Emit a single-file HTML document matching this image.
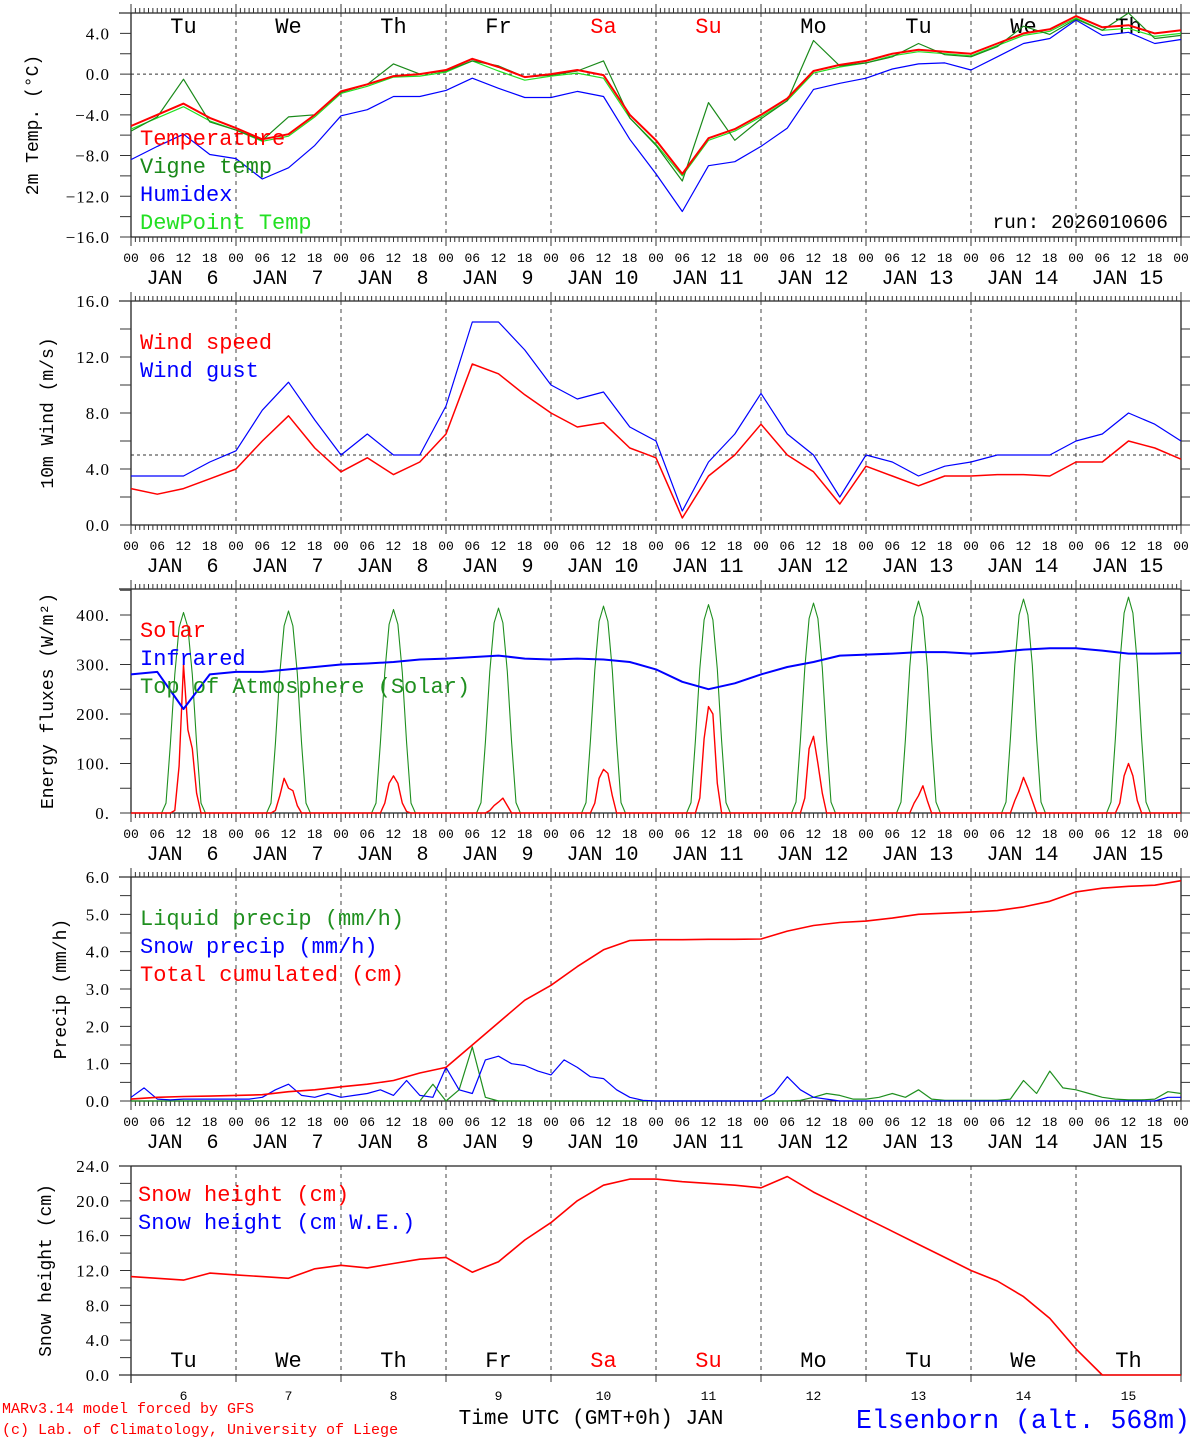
<!DOCTYPE html>
<html><head><meta charset="utf-8"><style>
html,body{margin:0;padding:0;background:#fff;}
svg{display:block;font-family:"Liberation Mono",monospace;}
</style></head><body>
<svg id="chart" width="1194" height="1440" viewBox="0 0 1194 1440" xmlns="http://www.w3.org/2000/svg">
<rect x="0" y="0" width="1194" height="1440" fill="#fff"/>
<g id="g"></g>
<text x="2" y="1413" font-size="15" fill="#f00">MARv3.14 model forced by GFS</text>
<text x="2" y="1434" font-size="15" fill="#f00">(c) Lab. of Climatology, University of Liege</text>
<text x="591" y="1424" font-size="21" text-anchor="middle" fill="#000">Time UTC (GMT+0h) JAN</text>
<text x="1190" y="1428" font-size="26.5" text-anchor="end" fill="#00f">Elsenborn (alt. 568m)</text>
<text x="1168" y="228" font-size="19.5" text-anchor="end" fill="#000">run: 2026010606</text>
</svg>
<script>
// ---- data (6-hourly from Jan 6 00UTC to Jan 16 00UTC) ----
const dayNames = ["Tu","We","Th","Fr","Sa","Su","Mo","Tu","We","Th"];
const dayNums = ["6","7","8","9","10","11","12","13","14","15"];
const hourLabels = ["00","06","12","18"];
const temperature = [-5.1,-4.0,-2.9,-4.3, -5.3,-6.4,-5.9,-4.0, -1.7,-1.0,-0.2,0.0, 0.4,1.5,0.7,-0.3, 0.0,0.4,-0.1,-4.0, -6.5,-9.8,-6.3,-5.4, -4.0,-2.4,0.3,0.9, 1.3,2.0,2.4,2.2, 2.0,3.0,4.0,4.4, 5.7,4.6,4.8,4.0, 4.3];
const vigneTemp = [-5.6,-4.2,-0.5,-4.7, -5.5,-6.5,-4.2,-4.0, -1.8,-1.0,1.0,0.0, 0.3,1.3,0.8,-0.3, -0.1,0.3,1.3,-4.3, -7.0,-10.5,-2.8,-6.5, -4.4,-2.6,3.3,0.8, 1.1,1.7,3.0,1.9, 1.7,2.7,4.7,3.9, 5.4,4.3,6.0,3.5, 3.8];
const humidex = [-8.4,-7.1,-5.9,-7.9, -8.3,-10.3,-9.2,-7.0, -4.1,-3.5,-2.2,-2.2, -1.6,-0.4,-1.4,-2.3, -2.3,-1.7,-2.2,-6.4, -9.8,-13.5,-9.0,-8.6, -7.1,-5.3,-1.5,-0.9, -0.4,0.5,1.0,1.1, 0.4,1.7,3.0,3.5, 5.3,3.8,4.1,3.0, 3.4];
const dewPoint = [-5.4,-4.3,-3.2,-4.6, -5.5,-6.6,-6.1,-4.2, -1.9,-1.2,-0.3,-0.2, 0.2,1.3,0.3,-0.6, -0.2,0.1,-0.4,-4.3, -6.9,-10.0,-6.5,-5.6, -4.2,-2.6,0.1,0.7, 1.1,1.8,2.2,2.0, 1.8,2.8,3.8,4.2, 5.5,4.3,4.5,3.7, 4.0];
const windSpeed = [2.6,2.2,2.6,3.3, 4.0,6.0,7.8,5.5, 3.8,4.8,3.6,4.5, 6.5,11.5,10.8,9.3, 8.0,7.0,7.3,5.5, 4.8,0.5,3.5,5.0, 7.2,5.0,3.8,1.5, 4.2,3.5,2.8,3.5, 3.5,3.6,3.6,3.5, 4.5,4.5,6.0,5.5, 4.7];
const windGust = [3.5,3.5,3.5,4.5, 5.3,8.2,10.2,7.5, 5.0,6.5,5.0,5.0, 8.5,14.5,14.5,12.5, 10.0,9.0,9.5,7.0, 6.0,1.0,4.5,6.5, 9.4,6.5,5.0,2.0, 5.0,4.5,3.5,4.2, 4.5,5.0,5.0,5.0, 6.0,6.5,8.0,7.2, 6.0];
const infrared = [280,285,210,280, 285,285,290,295, 300,302,305,310, 312,315,318,312, 310,312,310,305, 290,265,250,262, 280,295,305,318, 320,322,325,325, 322,325,330,333, 333,328,322,322, 323];
// hourly daytime values, hours 08..16 of each day
const SUN_START = 8;
const solarByDay = [[0,0,5,95,300,168,130,40,0],[0,5,35,70,50,45,15,0,0],[0,0,20,60,75,60,20,3,0],[0,0,5,15,22,30,15,0,0],[0,0,20,70,88,80,35,0,0],[0,0,30,150,215,200,60,0,0],[0,0,30,130,155,100,40,0,0],[0,0,0,20,35,55,25,0,0],[0,0,25,45,72,50,25,0,0],[0,0,20,75,100,75,25,0,0]];
const toaByDay = [[20,140,280,375,405,375,280,140,20],[20,140,282,378,408,378,282,140,20],[20,142,284,381,411,381,284,142,20],[21,143,286,384,414,384,286,143,21],[21,145,289,387,418,387,289,145,21],[21,146,291,390,421,390,291,146,21],[22,147,293,393,424,393,293,147,22],[22,148,296,396,428,396,296,148,22],[22,150,299,400,432,400,299,150,22],[22,151,302,404,436,404,302,151,22]];
// 3-hourly precipitation
const liquidPrecip = [0,0,0,0,0,0,0,0, 0,0,0,0,0,0,0,0, 0,0,0,0,0,0,0,0.45, 0,0.3,1.45,0.1,0,0,0,0, 0,0,0,0,0,0,0,0, 0,0,0,0,0,0,0,0, 0,0,0,0.02,0.1,0.2,0.15,0.05, 0.05,0.1,0.2,0.1,0.3,0.05,0.02,0.02, 0.02,0.02,0.02,0.05,0.55,0.2,0.8,0.35, 0.3,0.2,0.1,0.05,0.03,0.03,0.05,0.25, 0.2];
const snowPrecip = [0.1,0.35,0.05,0.03,0.05,0.05,0.05,0.05, 0.05,0.05,0.1,0.3,0.45,0.15,0.1,0.2, 0.1,0.15,0.2,0.3,0.15,0.55,0.15,0.1, 0.9,0.3,0.2,1.1,1.2,1.0,0.95,0.8, 0.7,1.1,0.9,0.65,0.6,0.3,0.1,0.02, 0,0,0,0,0,0,0,0, 0,0.2,0.65,0.3,0.1,0.05,0,0, 0,0,0,0,0,0,0,0, 0,0,0,0,0,0,0,0, 0,0,0,0,0,0,0,0.1, 0.1];
const totalCumulated = [0.05,0.1,0.12,0.13, 0.15,0.17,0.25,0.3, 0.38,0.45,0.55,0.75, 0.9,1.5,2.1,2.7, 3.1,3.6,4.05,4.3, 4.32,4.32,4.33,4.33, 4.34,4.55,4.7,4.78, 4.82,4.9,5.0,5.03, 5.06,5.1,5.2,5.35, 5.6,5.7,5.75,5.78, 5.9];
const snowHeight = [11.3,11.1,10.9,11.7, 11.5,11.3,11.1,12.2, 12.6,12.3,12.8,13.3, 13.5,11.8,13.0,15.5, 17.5,20.0,21.8,22.5, 22.5,22.2,22.0,21.8, 21.5,22.8,21.0,19.5, 18.0,16.5,15.0,13.5, 12.0,10.8,9.0,6.5, 3.0,0,0,0, 0];

// ---- drawing ----
const NS="http://www.w3.org/2000/svg";
const G=document.getElementById('g');
const X0=131, X1=1181;
const xh = h => X0 + h*(X1-X0)/240;
function mk(tag, attrs, parent){const e=document.createElementNS(NS,tag);for(const k in attrs)e.setAttribute(k,attrs[k]);(parent||G).appendChild(e);return e;}
function txt(s,x,y,size,fill,anchor,parent){const t=mk('text',{x:x,y:y,'font-size':size,fill:fill||'#000','text-anchor':anchor||'start'},parent);t.textContent=s;return t;}

const panels=[
 {top:13,bottom:237,min:-16,max:6,minor:2,major:4,fmt:v=>(v<0?'\u2212':'')+Math.abs(v).toFixed(1),title:'2m Temp. (°C)',tx:32,name:'temperature-panel',full:true,dash:0},
 {top:301,bottom:525,min:0,max:16,minor:2,major:4,fmt:v=>v.toFixed(1),title:'10m Wind (m/s)',tx:47,name:'wind-panel',full:true,dash:5},
 {top:589,bottom:813,min:0,max:452.5,minor:50,major:100,fmt:v=>v+'.',title:'Energy fluxes (W/m²)',tx:47,name:'energy-panel',full:true,dash:null},
 {top:877,bottom:1101,min:0,max:6,minor:0.5,major:1,fmt:v=>v.toFixed(1),title:'Precip (mm/h)',tx:60,name:'precip-panel',full:true,dash:null},
 {top:1166,bottom:1375,min:0,max:24,minor:2,major:4,fmt:v=>v.toFixed(1),title:'Snow height (cm)',tx:45,name:'snow-panel',full:false,dash:null}
];
panels.forEach(p=>{p.y=v=>p.bottom-(v-p.min)*(p.bottom-p.top)/(p.max-p.min);});

panels.forEach((p,pi)=>{
 const g=mk('g',{});
 
 
 for(let d=1;d<10;d++){const l=mk('line',{x1:xh(d*24),x2:xh(d*24),y1:p.top,y2:p.bottom,stroke:'#444','stroke-width':1,'stroke-dasharray':'4,4'},g);
  
  }
 if(p.dash!==null){const l=mk('line',{x1:X0,x2:X1,y1:p.y(p.dash),y2:p.y(p.dash),stroke:'#333','stroke-width':1,'stroke-dasharray':'3,3'},g);
  
  }
 const fr=mk('path',{d:`M${X0-12},${p.top}H${X1}V${p.bottom}H${p.full?X0:X0-12}M${X0},${p.top}V${p.bottom+(p.full?0:8)}`,fill:'none',stroke:'#222','stroke-width':1.3},g);
 
 
 let tp='';
 const nT=Math.round((p.max-p.min)/p.minor);
 for(let i=0;i<=nT;i++){const v=p.min+i*p.minor; if(v>p.max+1e-6)break; const y=p.y(v);
  tp+=`M${X0-11},${y}H${X0}`; if(p.full)tp+=`M${X1},${y}H${X1+9}`;
  if(Math.abs(v/p.major-Math.round(v/p.major))<1e-6){const t=txt(p.fmt(v),110,y+6,17,'#000','end',g);
   t.setAttribute('font-family','Liberation Serif, serif');
   t.setAttribute('letter-spacing','1');
   
   }}
 if(p.full){for(let h=0;h<=240;h++){const L=(h%24===0)?9:5;tp+=`M${xh(h)},${p.top}v${-L}M${xh(h)},${p.bottom}v${L}`;}}
 else{for(let d=0;d<=10;d++)tp+=`M${xh(d*24)},${p.bottom}v7`;}
 const tk=mk('path',{d:tp,stroke:'#333','stroke-width':1,fill:'none'},g);
 
 
 const cy=(p.top+p.bottom)/2;
 const yt=txt(p.title,p.tx,cy,18,'#000','middle',g);
 yt.setAttribute('transform',`rotate(-90 ${p.tx} ${cy})`);
 yt.setAttribute('dy','6');
 
 
 if(p.full){
  for(let h=0;h<=240;h+=6){const t=txt(hourLabels[(h/6)%4],xh(h),p.bottom+25,13,'#000','middle',g);
   
   }
  for(let d=0;d<10;d++){const m=xh(d*24+12);
   const a=txt('JAN',m-37,p.bottom+47,20,'#000','start',g);
   
   
   const b=txt(dayNums[d],m+35,p.bottom+47,20,'#000','end',g);
   
   }
 } else {
  for(let d=0;d<10;d++){const t=txt(dayNums[d],xh(d*24+12),p.bottom+25,13,'#000','middle',g);
   
   }
 }
});
[[panels[0],33],[panels[4],1367]].forEach(([p,yy])=>{
 for(let d=0;d<10;d++){const t=txt(dayNames[d],xh(d*24+12),yy,22,(d===4||d===5)?'#f00':'#000','middle');
  
  }
});

function line(p,arr,step,color,w,name,offset){
 const pts=arr.map((v,i)=>xh((offset||0)+i*step).toFixed(1)+','+p.y(v).toFixed(1)).join(' ');
 const e=mk('polyline',{points:pts,fill:'none',stroke:color,'stroke-width':w,'stroke-linejoin':'round'});
 
 
}
function dayShape(byDay){const out=[];byDay.forEach((vals,d)=>{out.push([d*24+SUN_START-1,0]);vals.forEach((v,i)=>out.push([d*24+SUN_START+i,v]));out.push([d*24+SUN_START+vals.length,0]);});return out;}
function shapeLine(p,pts,color,w,name){
 const s=[[0,0]].concat(pts,[[240,0]]).map(q=>xh(q[0]).toFixed(1)+','+p.y(q[1]).toFixed(1)).join(' ');
 const e=mk('polyline',{points:s,fill:'none',stroke:color,'stroke-width':w,'stroke-linejoin':'round'});
 
 
}
const P=panels;
line(P[0],dewPoint,6,'#22e022',1.2,'dewpoint-line');
line(P[0],humidex,6,'#0000ff',1.2,'humidex-line');
line(P[0],vigneTemp,6,'#1a8a1a',1.2,'vigne-temp-line');
line(P[0],temperature,6,'#ff0000',2,'temperature-line');
line(P[1],windGust,6,'#0000ff',1.2,'wind-gust-line');
line(P[1],windSpeed,6,'#ff0000',1.5,'wind-speed-line');
shapeLine(P[2],dayShape(toaByDay),'#1f8f1f',1.1,'toa-solar-line');
shapeLine(P[2],dayShape(solarByDay),'#ff0000',1.4,'solar-line');
line(P[2],infrared,6,'#0000ff',2,'infrared-line');
line(P[3],liquidPrecip,3,'#1f8f1f',1.2,'liquid-precip-line');
line(P[3],snowPrecip,3,'#0000ff',1.2,'snow-precip-line');
line(P[3],totalCumulated,6,'#ff0000',1.6,'total-cumulated-line');
line(P[4],snowHeight,6,'#ff0000',1.6,'snow-height-line');

const legends=[
 [140,[['Temperature','#f00',145],['Vigne temp','#1a8a1a',173],['Humidex','#00f',201],['DewPoint Temp','#22e022',229]]],
 [140,[['Wind speed','#f00',349],['Wind gust','#00f',377]]],
 [140,[['Solar','#f00',637],['Infrared','#00f',665],['Top of Atmosphere (Solar)','#1f8f1f',693]]],
 [140,[['Liquid precip (mm/h)','#1f8f1f',925],['Snow precip (mm/h)','#00f',953],['Total cumulated (cm)','#f00',981]]],
 [138,[['Snow height (cm)','#f00',1201],['Snow height (cm W.E.)','#00f',1229]]]
];
legends.forEach(([x,items])=>items.forEach(([s,c,y])=>{const t=txt(s,x,y,22,c,'start');
 
 }));
</script>
</body></html>
